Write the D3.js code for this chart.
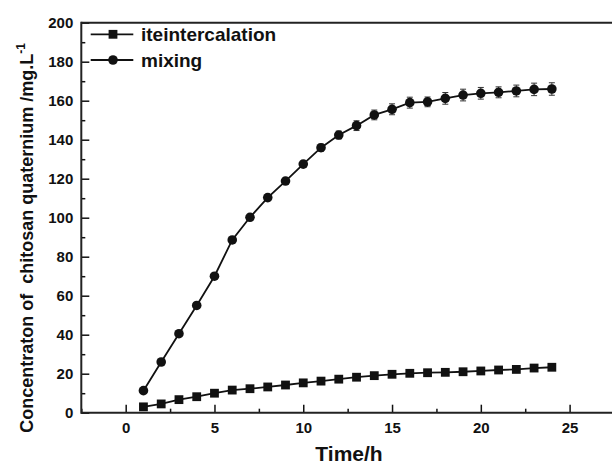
<!DOCTYPE HTML>
<HTML>
  <HEAD>
    <TITLE>Release curve</TITLE>
    <script src="https://d3js.org/d3.v7.min.js" charset="utf-8"></script>
    <style>
      html, body { margin: 0; padding: 0; background: white; overflow: hidden; }
      svg { display: block; }
      text { font-family: "Liberation Sans", Arial, sans-serif; font-weight: bold; }
    </style>
  </HEAD>
  <BODY>

  <script type="text/javascript">

    // data
    var hours = [1, 2, 3, 4, 5, 6, 7, 8, 9, 10, 11, 12, 13, 14, 15, 16, 17, 18, 19, 20, 21, 22, 23, 24];
    var intercalation = [3, 4.5, 6.7, 8.2, 10, 11.6, 12.3, 13.2, 14.2, 15.3, 16.2, 17.2,
                         18.2, 19.0, 19.7, 20.2, 20.5, 20.7, 21.0, 21.4, 21.9, 22.2, 22.9, 23.3];
    var intercalationErr = [0.6, 0.6, 0.6, 0.7, 0.7, 0.7, 0.8, 0.8, 0.8, 0.8, 0.8, 0.8,
                            0.9, 0.9, 0.9, 0.9, 0.9, 1.0, 1.0, 1.0, 1.0, 1.0, 1.0, 1.0];
    var mixing = [11.3, 26, 40.5, 55, 70, 88.6, 100.2, 110.3, 118.8, 127.5, 135.9, 142.4,
                  147.2, 152.7, 155.6, 159.0, 159.4, 161.2, 162.9, 163.8, 164.3, 165.0, 165.8, 166.0];
    var mixingErr = [0.8, 1, 1, 1.2, 1, 1.2, 1.2, 1.5, 1.5, 1.5, 1.8, 2,
                     2.5, 2.5, 2.8, 2.8, 2.5, 3, 3, 3, 2.8, 3, 3.2, 3.2];
    var seriesNames = ["iteintercalation", "mixing"];
    var xTicks = [0, 5, 10, 15, 20, 25];
    var xMinor = [-2.5, 2.5, 7.5, 12.5, 17.5, 22.5];
    var yTicks = [0, 20, 40, 60, 80, 100, 120, 140, 160, 180, 200];
    var yMinor = [10, 30, 50, 70, 90, 110, 130, 150, 170, 190];

    var w = 612;
    var h = 464;

    var svg = d3.select("body").append("svg")
      .attr("width", w)
      .attr("height", h);

    var x = d3.scaleLinear().domain([-2.5, 27.5]).range([81.3, 614]);
    var y = d3.scaleLinear().domain([0, 200]).range([412.7, 22.7]);

    var series = [
      {name: seriesNames[0], shape: "square", values: intercalation, err: intercalationErr},
      {name: seriesNames[1], shape: "circle", values: mixing, err: mixingErr}
    ];

    // axes, ticks point inwards
    svg.append("g")
      .attr("transform", "translate(0," + y(0) + ")")
      .call(d3.axisBottom(x).tickValues(xTicks).tickSizeInner(-8).tickSizeOuter(0).tickPadding(10));

    svg.append("g")
      .attr("transform", "translate(0," + y(0) + ")")
      .call(d3.axisBottom(x).tickValues(xMinor).tickFormat("").tickSizeInner(-4).tickSizeOuter(0));

    svg.append("g")
      .attr("transform", "translate(" + x(-2.5) + ",0)")
      .call(d3.axisLeft(y).tickValues(yTicks).tickSizeInner(-8).tickSizeOuter(0).tickPadding(8));

    svg.append("g")
      .attr("transform", "translate(" + x(-2.5) + ",0)")
      .call(d3.axisLeft(y).tickValues(yMinor).tickFormat("").tickSizeInner(-4).tickSizeOuter(0));

    svg.selectAll(".domain").remove();
    svg.selectAll(".tick line").attr("stroke", "#111").attr("stroke-width", 1.5);
    svg.selectAll(".tick text")
      .attr("font-size", 15)
      .attr("fill", "#111")
      .attr("font-family", "Liberation Sans, Arial, sans-serif");

    // frame: left, bottom, top (right side falls off the page)
    var frame = [
      [x(-2.5), y(0) + 1, x(-2.5), y(200) - 1],
      [x(-2.5), y(0), w, y(0)],
      [x(-2.5), y(200), w, y(200)]
    ];
    frame.forEach(function(f) {
      svg.append("line")
        .attr("x1", f[0]).attr("y1", f[1])
        .attr("x2", f[2]).attr("y2", f[3])
        .attr("stroke", "#222")
        .attr("stroke-width", 2);
    });

    var line = d3.line()
      .x(function(d, i) { return x(hours[i]); })
      .y(function(d) { return y(d); });

    var drawMarker = function(g, shape, cx, cy) {
      if (shape == "square") {
        g.append("rect")
          .attr("x", cx - 4.4)
          .attr("y", cy - 4.4)
          .attr("width", 8.8)
          .attr("height", 8.8)
          .attr("fill", "#111");
      }
      else {
        g.append("circle")
          .attr("cx", cx)
          .attr("cy", cy)
          .attr("r", 4.8)
          .attr("fill", "#111");
      }
    };

    series.forEach(function(s) {
      var g = svg.append("g");

      g.append("path")
        .attr("d", line(s.values))
        .attr("fill", "none")
        .attr("stroke", "#111")
        .attr("stroke-width", 1.8);

      // error bars
      s.values.forEach(function(v, i) {
        var cx = x(hours[i]);
        g.append("line")
          .attr("x1", cx).attr("x2", cx)
          .attr("y1", y(v - s.err[i])).attr("y2", y(v + s.err[i]))
          .attr("stroke", "#333").attr("stroke-width", 1);
        [v - s.err[i], v + s.err[i]].forEach(function(e) {
          g.append("line")
            .attr("x1", cx - 3).attr("x2", cx + 3)
            .attr("y1", y(e)).attr("y2", y(e))
            .attr("stroke", "#333").attr("stroke-width", 1);
        });
      });

      s.values.forEach(function(v, i) {
        drawMarker(g, s.shape, x(hours[i]), y(v));
      });
    });

    // legend
    var legend = svg.append("g");
    series.forEach(function(s, i) {
      var ly = 34.3 + i * 25.7;
      legend.append("line")
        .attr("x1", 90.7).attr("x2", 133.3)
        .attr("y1", ly).attr("y2", ly)
        .attr("stroke", "#111").attr("stroke-width", 1.8);
      drawMarker(legend, s.shape, 113, ly);
      legend.append("text")
        .text(s.name)
        .attr("x", 141)
        .attr("y", ly)
        .attr("dy", "0.35em")
        .attr("font-size", 19)
        .attr("fill", "#111");
    });

    // axis titles
    svg.append("text")
      .text("Time/h")
      .attr("x", 349)
      .attr("y", 460.5)
      .attr("text-anchor", "middle")
      .attr("font-size", 21)
      .attr("fill", "#111");

    var yTitle = svg.append("text")
      .attr("transform", "translate(33,238) rotate(-90)")
      .attr("text-anchor", "middle")
      .attr("font-size", 18)
      .attr("fill", "#111")
      .attr("xml:space", "preserve");
    yTitle.append("tspan").text("Concentraton of  chitosan quaternium /mg.L");
    yTitle.append("tspan").text("-1").attr("font-size", 12).attr("dy", -8);

  </script>
  </BODY>
</HTML>
